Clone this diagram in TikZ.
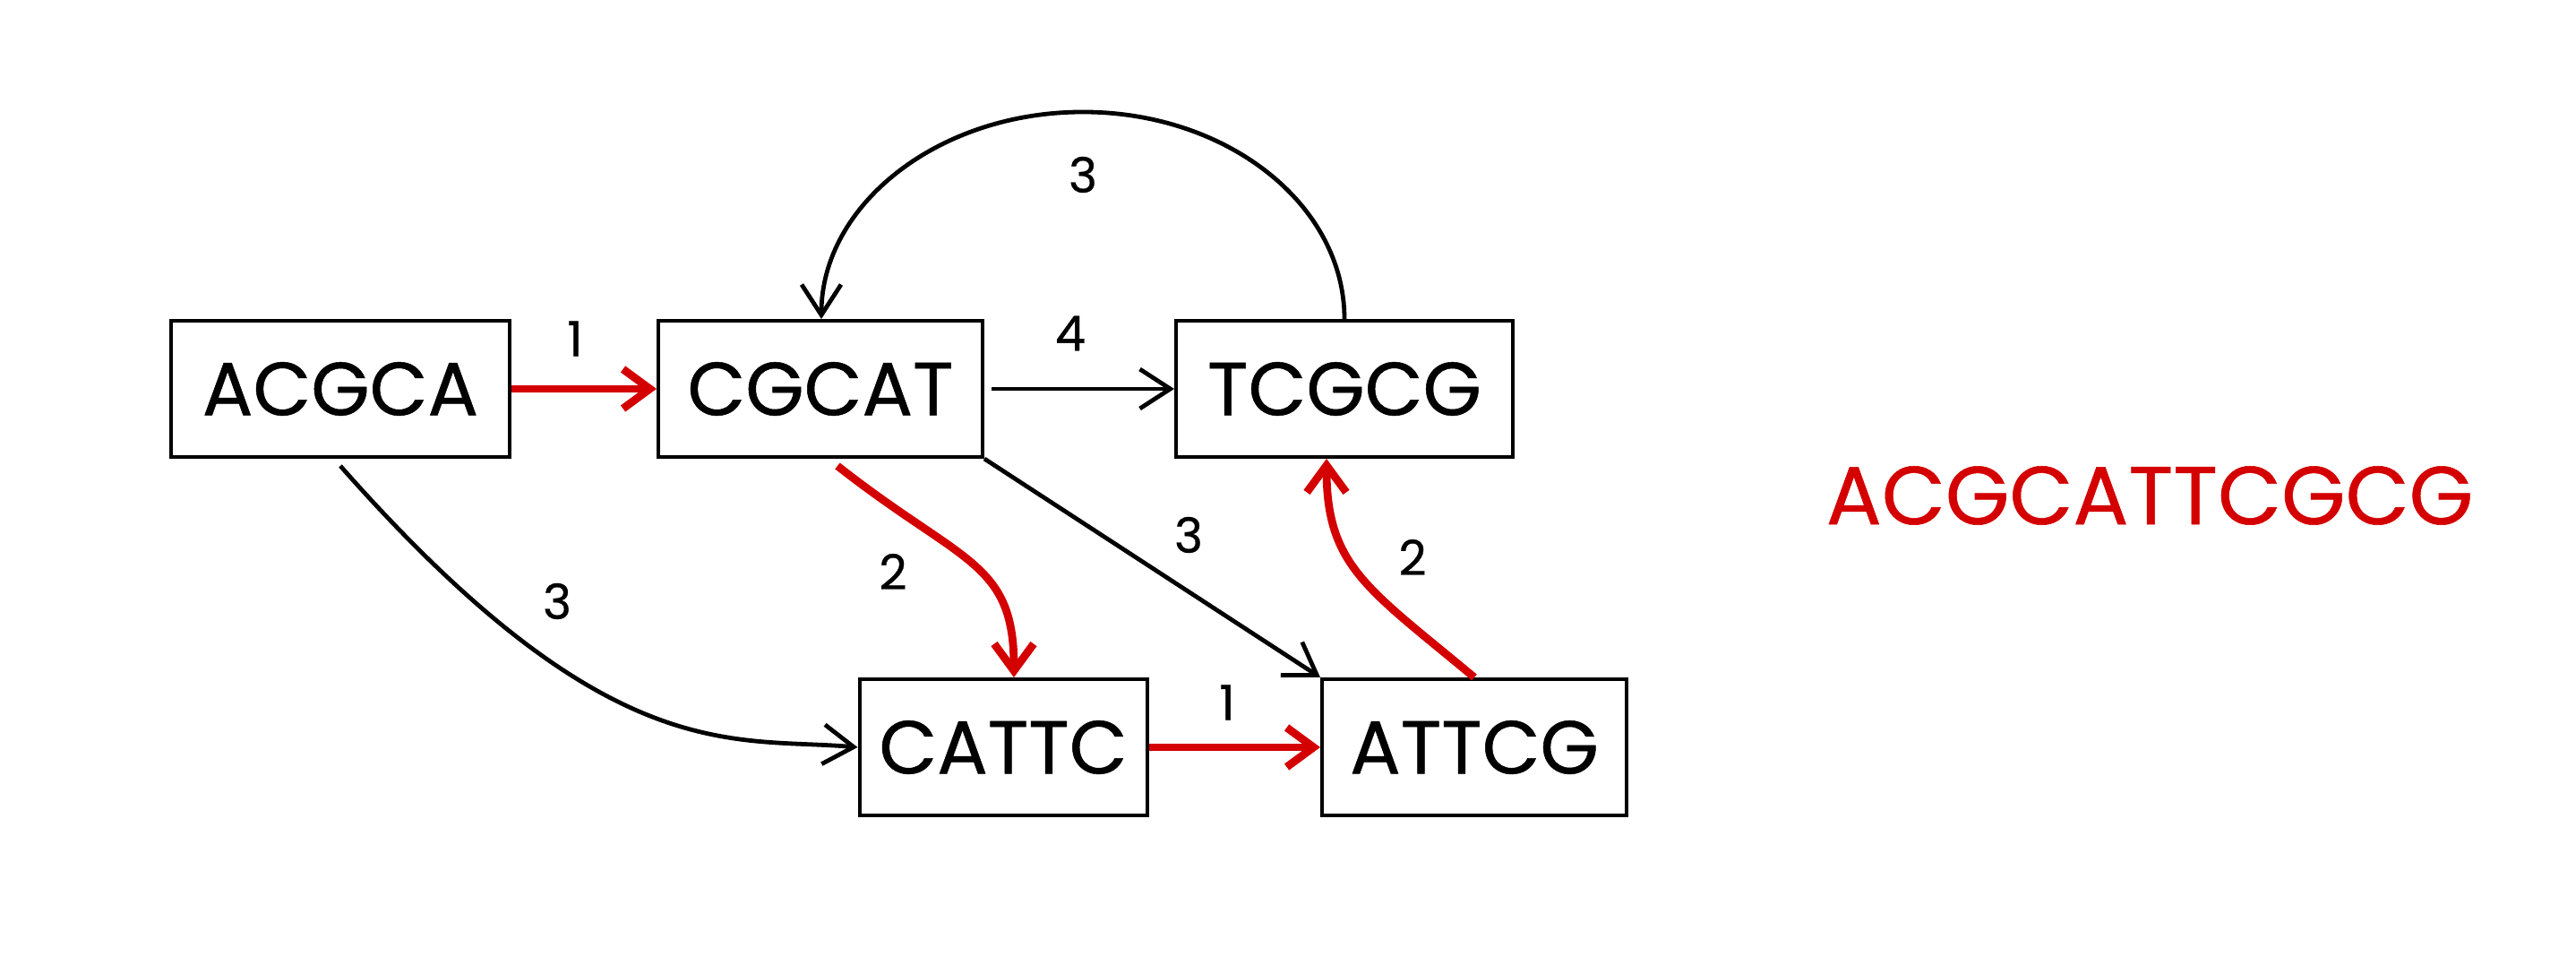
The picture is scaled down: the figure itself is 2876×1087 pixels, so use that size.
\documentclass[tikz,border=0pt]{standalone}
\usepackage{fontspec}
\setmainfont{Poppins}[FakeBold=0.6]
\usetikzlibrary{arrows.meta}
\definecolor{dnared}{RGB}{212,0,0}
\tikzset{
  kmer/.style={draw=black, line width=1pt, rectangle, inner sep=0pt, minimum height=38pt, font=\fontsize{21}{24}\selectfont},
  blk/.style={draw=black, line width=1.2pt, -{Straight Barb[length=8.5pt,width=11pt]}},
  redge/.style={draw=dnared, line width=2.2pt, -{Straight Barb[length=7.5pt,width=11pt]}},
  lbl/.style={inner sep=0pt, font=\fontsize{13.5}{15}\selectfont},
}
\begin{document}
\begin{tikzpicture}[x=0.25pt,y=-0.25pt]
\useasboundingbox (0,0) rectangle (2876,1087);
\node[kmer, minimum width=94.5pt] (acgca) at (380,434) {ACGCA};
\node[kmer, minimum width=90.5pt] (cgcat) at (916,434) {CGCAT};
\node[kmer, minimum width=94pt] (tcgcg) at (1501,434) {TCGCG};
\node[kmer, minimum width=80.25pt] (cattc) at (1120,834) {CATTC};
\node[kmer, minimum width=85pt] (attcg) at (1646,834) {ATTCG};
\node[inner sep=0pt, text=dnared, font=\fontsize{23}{26}\selectfont] (seq) at (2400,553) {ACGCATTCGCG};

\draw[redge] (acgca.east) -- (cgcat.west);
\draw[blk] ([xshift=2pt]cgcat.east) -- (tcgcg.west);
\draw[blk] (tcgcg.north) arc[start angle=0, end angle=-180, x radius=292, y radius=231];
\draw[blk] ([yshift=-2pt]acgca.south) .. controls +(300,340) and +(-140,-12) .. (cattc.west);
\draw[redge] ([xshift=4.75pt,yshift=-2pt]cgcat.south) .. controls +(140,110) and +(0,-130) .. ([xshift=3pt]cattc.north);
\draw[blk] (cgcat.south east) -- (attcg.north west);
\draw[redge] (cattc.east) -- (attcg.west);
\draw[redge] (attcg.north) .. controls +(-120,-100) and +(0,120) .. ([xshift=-5pt]tcgcg.south);

\node[lbl] (w1) at (642,378) {1};
\node[lbl] (w4) at (1195,372) {4};
\node[lbl] (w3a) at (1209,195) {3};
\node[lbl] (w3b) at (622,671) {3};
\node[lbl] (w2a) at (997,638) {2};
\node[lbl] (w3c) at (1327,597) {3};
\node[lbl] (w2b) at (1577,622) {2};
\node[lbl] (w1b) at (1370,784) {1};
\end{tikzpicture}
\end{document}
